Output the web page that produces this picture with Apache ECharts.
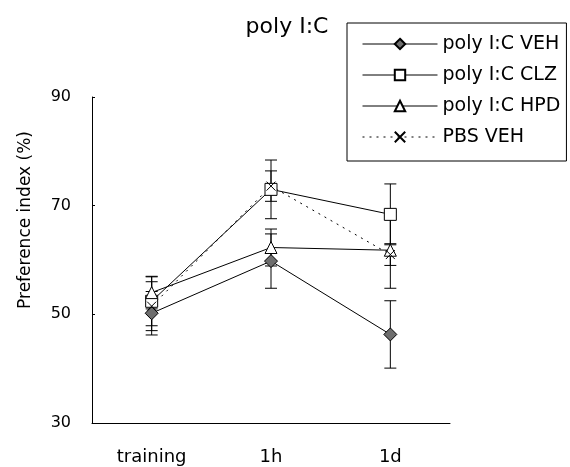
<!DOCTYPE html>
<html><head><meta charset="utf-8">
<script src="https://cdn.jsdelivr.net/npm/echarts@6/dist/echarts.min.js"></script>
<style>html,body{margin:0;padding:0;background:#fff}#c{width:570px;height:467px}</style>
</head><body><div id="c"></div>
<script>
const categories = ['training', '1h', '1d'];
const seriesNames = ['poly I:C VEH', 'poly I:C CLZ', 'poly I:C HPD', 'PBS VEH'];
const vehMean = [50.2, 59.8, 46.3];
const vehErr  = [4.0, 5.0, 6.2];
const clzMean = [52.4, 73.0, 68.4];
const clzErr  = [4.5, 5.4, 5.6];
const hpdMean = [54.0, 62.3, 61.8];
const hpdErr  = [3.0, 3.4, 7.0];
const pbsMean = [51.5, 73.6, 61.0];
const pbsErr  = [4.5, 2.8, 2.0];
const yTicks = [30, 50, 70, 90];
const titleText = 'poly I:C';
const yName = 'Preference index (%)';

const font = 'DejaVu Sans, Liberation Sans, sans-serif';
const crossPath = 'path://M0,0L10,10M10,0L0,10';

function errSeries(means, errs) {
  return {
    type: 'custom',
    silent: true,
    z: 1,
    data: means.map((m, i) => [i, m - errs[i], m + errs[i]]),
    renderItem: function (params, api) {
      const x = api.value(0);
      const lo = api.coord([x, api.value(1)]);
      const hi = api.coord([x, api.value(2)]);
      const w = 6;
      const st = { stroke: '#000', lineWidth: 1 };
      return {
        type: 'group',
        children: [
          { type: 'line', shape: { x1: lo[0], y1: lo[1], x2: hi[0], y2: hi[1] }, style: st },
          { type: 'line', shape: { x1: lo[0] - w, y1: lo[1], x2: lo[0] + w, y2: lo[1] }, style: st },
          { type: 'line', shape: { x1: hi[0] - w, y1: hi[1], x2: hi[0] + w, y2: hi[1] }, style: st }
        ]
      };
    }
  };
}

function lineSeries(name, data, symbol, fill, size, dashed) {
  return {
    name: name, type: 'line', data: data, z: 3,
    symbol: symbol, symbolSize: size, showSymbol: true,
    lineStyle: { color: '#000', width: 1, type: dashed ? [2, 5] : 'solid' },
    itemStyle: { color: fill, borderColor: '#000', borderWidth: 1 },
    emphasis: { disabled: true }
  };
}

const chart = echarts.init(document.getElementById('c'), null, { renderer: 'canvas' });
chart.setOption({
  animation: false,
  backgroundColor: '#fff',
  graphic: [
    {
      type: 'text', x: 287, y: 27,
      style: { text: titleText, fontFamily: font, fontSize: 22, fill: '#000', align: 'center', verticalAlign: 'middle' }
    },
    {
      type: 'text', x: 26, y: 220, rotation: Math.PI / 2,
      style: { text: yName, fontFamily: font, fontSize: 17, fill: '#000', align: 'center', verticalAlign: 'middle' }
    }
  ],
  legend: {
    data: seriesNames,
    orient: 'vertical', left: 347, top: 23,
    borderColor: '#000', borderWidth: 1, borderRadius: 0,
    padding: [11, 6, 14, 15],
    itemWidth: 75, itemHeight: 13, itemGap: 11,
    lineStyle: { width: 1 },
    textStyle: { fontFamily: font, fontSize: 19, lineHeight: 20, color: '#000' },
    selectedMode: false
  },
  grid: { left: 92, top: 97, right: 120, bottom: 44, containLabel: false },
  xAxis: {
    type: 'category', data: categories, boundaryGap: true,
    axisLine: { lineStyle: { color: '#000', width: 1 } },
    axisTick: { inside: true, length: 5, alignWithLabel: false, lineStyle: { color: '#000' } },
    axisLabel: { color: '#000', fontFamily: font, fontSize: 18, margin: 25 },
    splitLine: { show: false }
  },
  yAxis: {
    type: 'value', min: yTicks[0], max: yTicks[yTicks.length - 1], interval: 20,
    axisLine: { show: true, lineStyle: { color: '#000', width: 1 } },
    axisTick: { show: true, inside: true, length: 3, lineStyle: { color: '#000' } },
    axisLabel: { color: '#000', fontFamily: font, fontSize: 16, margin: 21 },
    splitLine: { show: false }
  },
  series: [
    errSeries(vehMean, vehErr),
    errSeries(clzMean, clzErr),
    errSeries(hpdMean, hpdErr),
    errSeries(pbsMean, pbsErr),
    lineSeries(seriesNames[0], vehMean, 'diamond', '#6e6e6e', 13, false),
    lineSeries(seriesNames[1], clzMean, 'rect', '#fff', 12, false),
    lineSeries(seriesNames[2], hpdMean, 'triangle', '#fff', 12, false),
    lineSeries(seriesNames[3], pbsMean, crossPath, 'none', 9, true)
  ]
});
</script></body></html>
